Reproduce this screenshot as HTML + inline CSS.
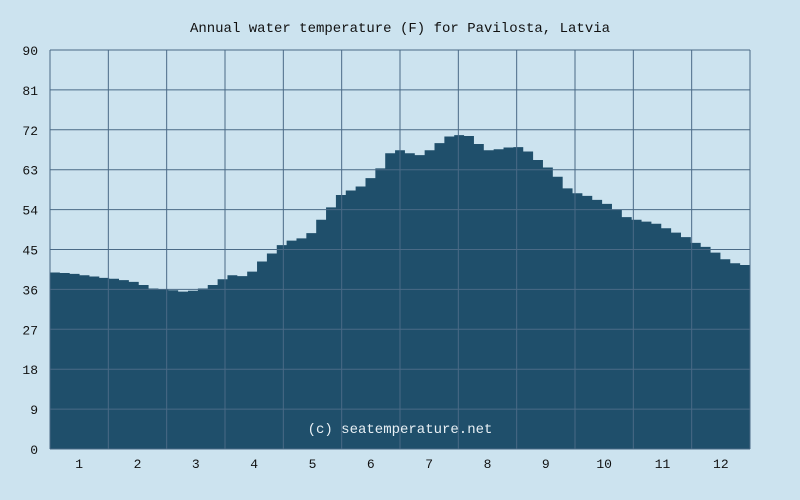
<!DOCTYPE html>
<html><head><meta charset="utf-8"><style>
body{margin:0;background:#cce3ef;}
svg{display:block;font-family:"Liberation Mono",monospace;}
</style></head><body>
<svg id="chart" width="800" height="500">
<rect width="800" height="500" fill="#cce3ef"/>
<text x="400" y="32" text-anchor="middle" font-size="14" fill="#111">Annual water temperature (F) for Pavilosta, Latvia</text>
<g id="area"></g><g id="grid"></g><g id="labels"></g>
<text x="400" y="433" text-anchor="middle" font-size="14" fill="#e8f0f5">(c) seatemperature.net</text>
</svg>
<script>
const temps=[39.8,39.7,39.5,39.2,38.9,38.6,38.4,38.1,37.7,37.0,36.2,36.0,35.8,35.5,35.7,36.2,37.0,38.3,39.2,39.0,40.0,42.3,44.1,46.0,47.0,47.5,48.7,51.7,54.5,57.3,58.3,59.2,61.1,63.3,66.7,67.4,66.7,66.3,67.4,69.0,70.5,70.8,70.6,68.8,67.4,67.6,68.0,68.1,67.1,65.2,63.5,61.4,58.8,57.7,57.1,56.2,55.3,53.9,52.3,51.7,51.3,50.8,49.8,48.8,47.8,46.5,45.6,44.3,42.8,41.9,41.5];
const yTicks=[0,9,18,27,36,45,54,63,72,81,90];
const months=["1","2","3","4","5","6","7","8","9","10","11","12"];
const L=50,R=750,T=50,B=449;
const ys=v=>B-(v/90)*(B-T);
const xs=i=>L+i*(R-L)/temps.length;
const NS="http://www.w3.org/2000/svg";
function mk(tag,attrs,parent){const e=document.createElementNS(NS,tag);for(const k in attrs)e.setAttribute(k,attrs[k]);parent.appendChild(e);return e;}
const area=document.getElementById('area'),grid=document.getElementById('grid'),labels=document.getElementById('labels');
let d=`M${L},${B}`;
temps.forEach((v,i)=>{d+=` L${xs(i)},${ys(v)} L${xs(i+1)},${ys(v)}`;});
d+=` L${R},${B} Z`;
const p=mk('path',{d:d,fill:'#1f4f6b'},area);


yTicks.forEach(t=>{
 const l=mk('line',{x1:L,x2:R,y1:ys(t),y2:ys(t),stroke:'#4a6a86','stroke-width':1},grid);
 
 
 const tx=mk('text',{x:38,y:ys(t)+5,'text-anchor':'end','font-size':13,fill:'#111'},labels);
 tx.textContent=t;
 
 
});
const mw=(R-L)/months.length;
for(let i=0;i<=months.length;i++){
 const l=mk('line',{x1:L+i*mw,x2:L+i*mw,y1:T,y2:B,stroke:'#4a6a86','stroke-width':1},grid);
 
 
}
months.forEach((m,i)=>{
 const tx=mk('text',{x:L+(i+0.5)*mw,y:468,'text-anchor':'middle','font-size':13,fill:'#111'},labels);
 tx.textContent=m;
 
 
});
</script>
</body></html>
